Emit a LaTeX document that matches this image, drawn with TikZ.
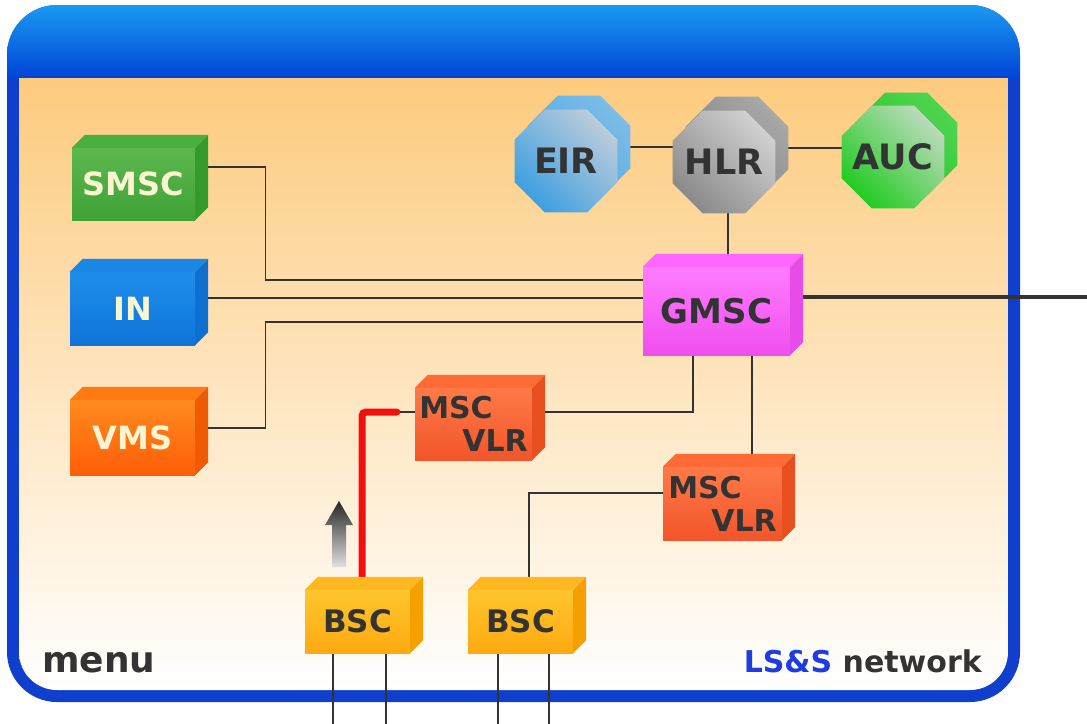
\documentclass[tikz,border=0pt]{standalone}
\usepackage{fontspec}
\setmainfont{DejaVu Sans}
\usetikzlibrary{shapes.geometric}
\pgfdeclarelayer{back}
\pgfdeclarelayer{wires}
\pgfsetlayers{back,wires,main}
\definecolor{frameblue}{HTML}{0F3FCC}
\definecolor{hdtop}{HTML}{1A9AF2}
\definecolor{hdbot}{HTML}{0044D6}
\definecolor{peach}{HTML}{FDCB7E}
\definecolor{wirec}{HTML}{333333}
\definecolor{txt}{HTML}{333333}
\definecolor{cream}{HTML}{F8F5D0}
\definecolor{lsblue}{HTML}{1E3CE0}
\definecolor{smscA}{HTML}{5CB84E}\definecolor{smscB}{HTML}{3FA236}
\definecolor{smscT}{HTML}{48B040}\definecolor{smscS}{HTML}{359A2C}
\definecolor{inA}{HTML}{1E8EEA}\definecolor{inB}{HTML}{0F74DA}
\definecolor{inT}{HTML}{1A86E6}\definecolor{inS}{HTML}{0F6FD0}
\definecolor{vmsA}{HTML}{FF8A1E}\definecolor{vmsB}{HTML}{FF5E08}
\definecolor{vmsT}{HTML}{FF7A12}\definecolor{vmsS}{HTML}{F05A05}
\definecolor{gmA}{HTML}{FF7CFF}\definecolor{gmB}{HTML}{F04EEE}
\definecolor{gmT}{HTML}{FF66FF}\definecolor{gmS}{HTML}{E84CE8}
\definecolor{mscA}{HTML}{FF7A48}\definecolor{mscB}{HTML}{F2552A}
\definecolor{mscT}{HTML}{FF6A35}\definecolor{mscS}{HTML}{E8501F}
\definecolor{bscA}{HTML}{FFC52E}\definecolor{bscB}{HTML}{FFAA10}
\definecolor{bscT}{HTML}{FFB820}\definecolor{bscS}{HTML}{F5A000}
\definecolor{eirA}{HTML}{BCCCDC}\definecolor{eirB}{HTML}{3FA0E0}
\definecolor{eirSA}{HTML}{7CBCE6}\definecolor{eirSB}{HTML}{4AA8E8}
\definecolor{hlrA}{HTML}{D0D0D0}\definecolor{hlrB}{HTML}{8A8A8A}
\definecolor{hlrSA}{HTML}{A8A8A8}\definecolor{hlrSB}{HTML}{7E7E7E}
\definecolor{aucA}{HTML}{BCDABC}\definecolor{aucB}{HTML}{22CC22}
\definecolor{aucSA}{HTML}{50D450}\definecolor{aucSB}{HTML}{22C422}
\definecolor{redw}{HTML}{F01010}
\newcommand\cubefaces[4]{%
  \fill[#3] (#1.north west) -- ++(#2,-#2) -- ([xshift=#2pt,yshift=#2pt]#1.north east) -- (#1.north east) -- cycle;
  \fill[#4] (#1.north east) -- ([xshift=#2pt,yshift=#2pt]#1.north east) -- ([xshift=#2pt,yshift=#2pt]#1.south east) -- (#1.south east) -- cycle;}
\begin{document}
\begin{tikzpicture}[x=1pt,y=-1pt,
  box/.style={rectangle, inner sep=0pt, font=\bfseries\fontsize{32}{35}\selectfont, text=txt},
  mscbox/.style={box, align=left, font=\bfseries\fontsize{30}{33}\selectfont, top color=mscA, bottom color=mscB},
  bscbox/.style={box, font=\bfseries\fontsize{31}{34}\selectfont, top color=bscA, bottom color=bscB, minimum width=105pt, minimum height=63pt},
  octo/.style={regular polygon, regular polygon sides=8, minimum size=111pt, inner sep=-40pt, font=\bfseries\fontsize{35}{38}\selectfont, text=txt},
  wire/.style={draw=wirec, line width=1.3pt},
  redwire/.style={draw=redw, line width=7pt, line cap=round, rounded corners=4pt}]
\useasboundingbox (0,0) rectangle (1087,723);

% frame
\begin{pgfonlayer}{back}
  \fill[frameblue, rounded corners=50pt] (7,5) rectangle (1020,702);
  \begin{scope}
    \clip[rounded corners=50pt] (7,5) rectangle (1020,702);
    \shade[top color=hdtop, bottom color=hdbot] (7,5) rectangle (1020,78);
  \end{scope}
  \begin{scope}
    \clip[rounded corners=38pt] (19,-100) rectangle (1008,690);
    \shade[top color=peach, middle color=white, bottom color=white] (19,78) rectangle (1008,690);
  \end{scope}
\end{pgfonlayer}

% octagons
\node[octo, top color=eirSA, bottom color=eirSB, shading angle=-45] (eirS) at (579,147) {};
\node[octo, top color=eirA, bottom color=eirB, shading angle=-45] (eir) at (566,161) {EIR};
\node[octo, top color=hlrSA, bottom color=hlrSB, shading angle=-45] (hlrS) at (737,148) {};
\node[octo, top color=hlrA, bottom color=hlrB, shading angle=-45] (hlr) at (724,162) {HLR};
\node[octo, top color=aucSA, bottom color=aucSB, shading angle=-45] (aucS) at (906,144) {};
\node[octo, top color=aucA, bottom color=aucB, shading angle=-45] (auc) at (893,157) {AUC};

% boxes
\node[box, top color=smscA, bottom color=smscB, text=cream, minimum width=123pt, minimum height=72pt] (smsc) at (133.5,184) {SMSC};
\cubefaces{smsc}{13}{smscT}{smscS}
\node[box, top color=inA, bottom color=inB, text=cream, minimum width=125pt, minimum height=73pt] (in) at (132.5,308.5) {IN};
\cubefaces{in}{13}{inT}{inS}
\node[box, top color=vmsA, bottom color=vmsB, text=cream, minimum width=125pt, minimum height=75pt] (vms) at (132.5,437.5) {VMS};
\cubefaces{vms}{13}{vmsT}{vmsS}
\node[box, top color=gmA, bottom color=gmB, font=\bfseries\fontsize{34}{38}\selectfont, minimum width=147pt, minimum height=88pt] (gmsc) at (716.5,311) {GMSC};
\cubefaces{gmsc}{13}{gmT}{gmS}
\node[mscbox, minimum width=117pt, minimum height=72pt] (msc1) at (473.5,424) {MSC\\\hspace*{43pt}VLR};
\cubefaces{msc1}{13}{mscT}{mscS}
\node[mscbox, minimum width=119pt, minimum height=73pt] (msc2) at (722.5,503.5) {MSC\\\hspace*{43pt}VLR};
\cubefaces{msc2}{13}{mscT}{mscS}
\node[bscbox] (bsc1) at (357.5,621.5) {BSC};
\cubefaces{bsc1}{13}{bscT}{bscS}
\node[bscbox] (bsc2) at (520.5,621.5) {BSC};
\cubefaces{bsc2}{13}{bscT}{bscS}

\coordinate (ext) at (1087,297);

% wires
\begin{pgfonlayer}{wires}
  \draw[wire] (eirS.east) -- (eirS.east -| hlrS.west);
  \draw[wire] (hlrS.east) -- (hlrS.east -| aucS.west);
  \draw[wire] ([xshift=4pt]hlr.south) -- ([xshift=4pt]hlr.south |- gmsc.north);
  \draw[wire] ([yshift=17pt]smsc.east) -- ++(70,0) |- ([yshift=31pt]gmsc.west);
  \draw[wire] ([yshift=10.5pt]in.east) -- ([yshift=10.5pt]in.east -| gmsc.west);
  \draw[wire] ([yshift=9.5pt]vms.east) -- ++(70,0) |- ([yshift=-11pt]gmsc.west);
  \draw[draw=wirec, line width=3.5pt] ([yshift=14pt]gmsc.east) -- (ext);
  \draw[wire] ([xshift=-23.5pt]gmsc.south) |- ([yshift=12pt]msc1.east);
  \draw[wire] ([xshift=35.5pt]gmsc.south) -- ([xshift=35.5pt]gmsc.south |- msc2.north);
  \draw[wire] ([yshift=10.5pt]msc2.west) -| ([xshift=8.5pt]bsc2.north);
  \draw[wire] ([yshift=12pt]msc1.west) -- ([xshift=-25pt,yshift=12pt]msc1.west);
  \draw[redwire] ([xshift=4.5pt]bsc1.north) |- ([xshift=-18pt,yshift=12pt]msc1.west);
  \draw[wire] ([xshift=-24.5pt]bsc1.south) -- ++(0,75);
  \draw[wire] ([xshift=28.5pt]bsc1.south) -- ++(0,75);
  \draw[wire] ([xshift=-22.5pt]bsc2.south) -- ++(0,75);
  \draw[wire] ([xshift=28.5pt]bsc2.south) -- ++(0,75);
\end{pgfonlayer}

% arrow
\shade[top color=black!85, bottom color=black!12] (332,567) -- (332,525) -- (325,525) -- (339,501) -- (353,525) -- (346,525) -- (346,567) -- cycle;

% labels
\node[anchor=base west, font=\bfseries\fontsize{36}{42}\selectfont, text=txt, inner sep=0pt] (menu) at (42,672) {menu};
\node[anchor=base east, font=\bfseries\fontsize{30}{35}\selectfont, inner sep=0pt] (brand) at (982,672) {\textcolor{lsblue}{LS\&S} \textcolor{txt}{network}};
\end{tikzpicture}
\end{document}
